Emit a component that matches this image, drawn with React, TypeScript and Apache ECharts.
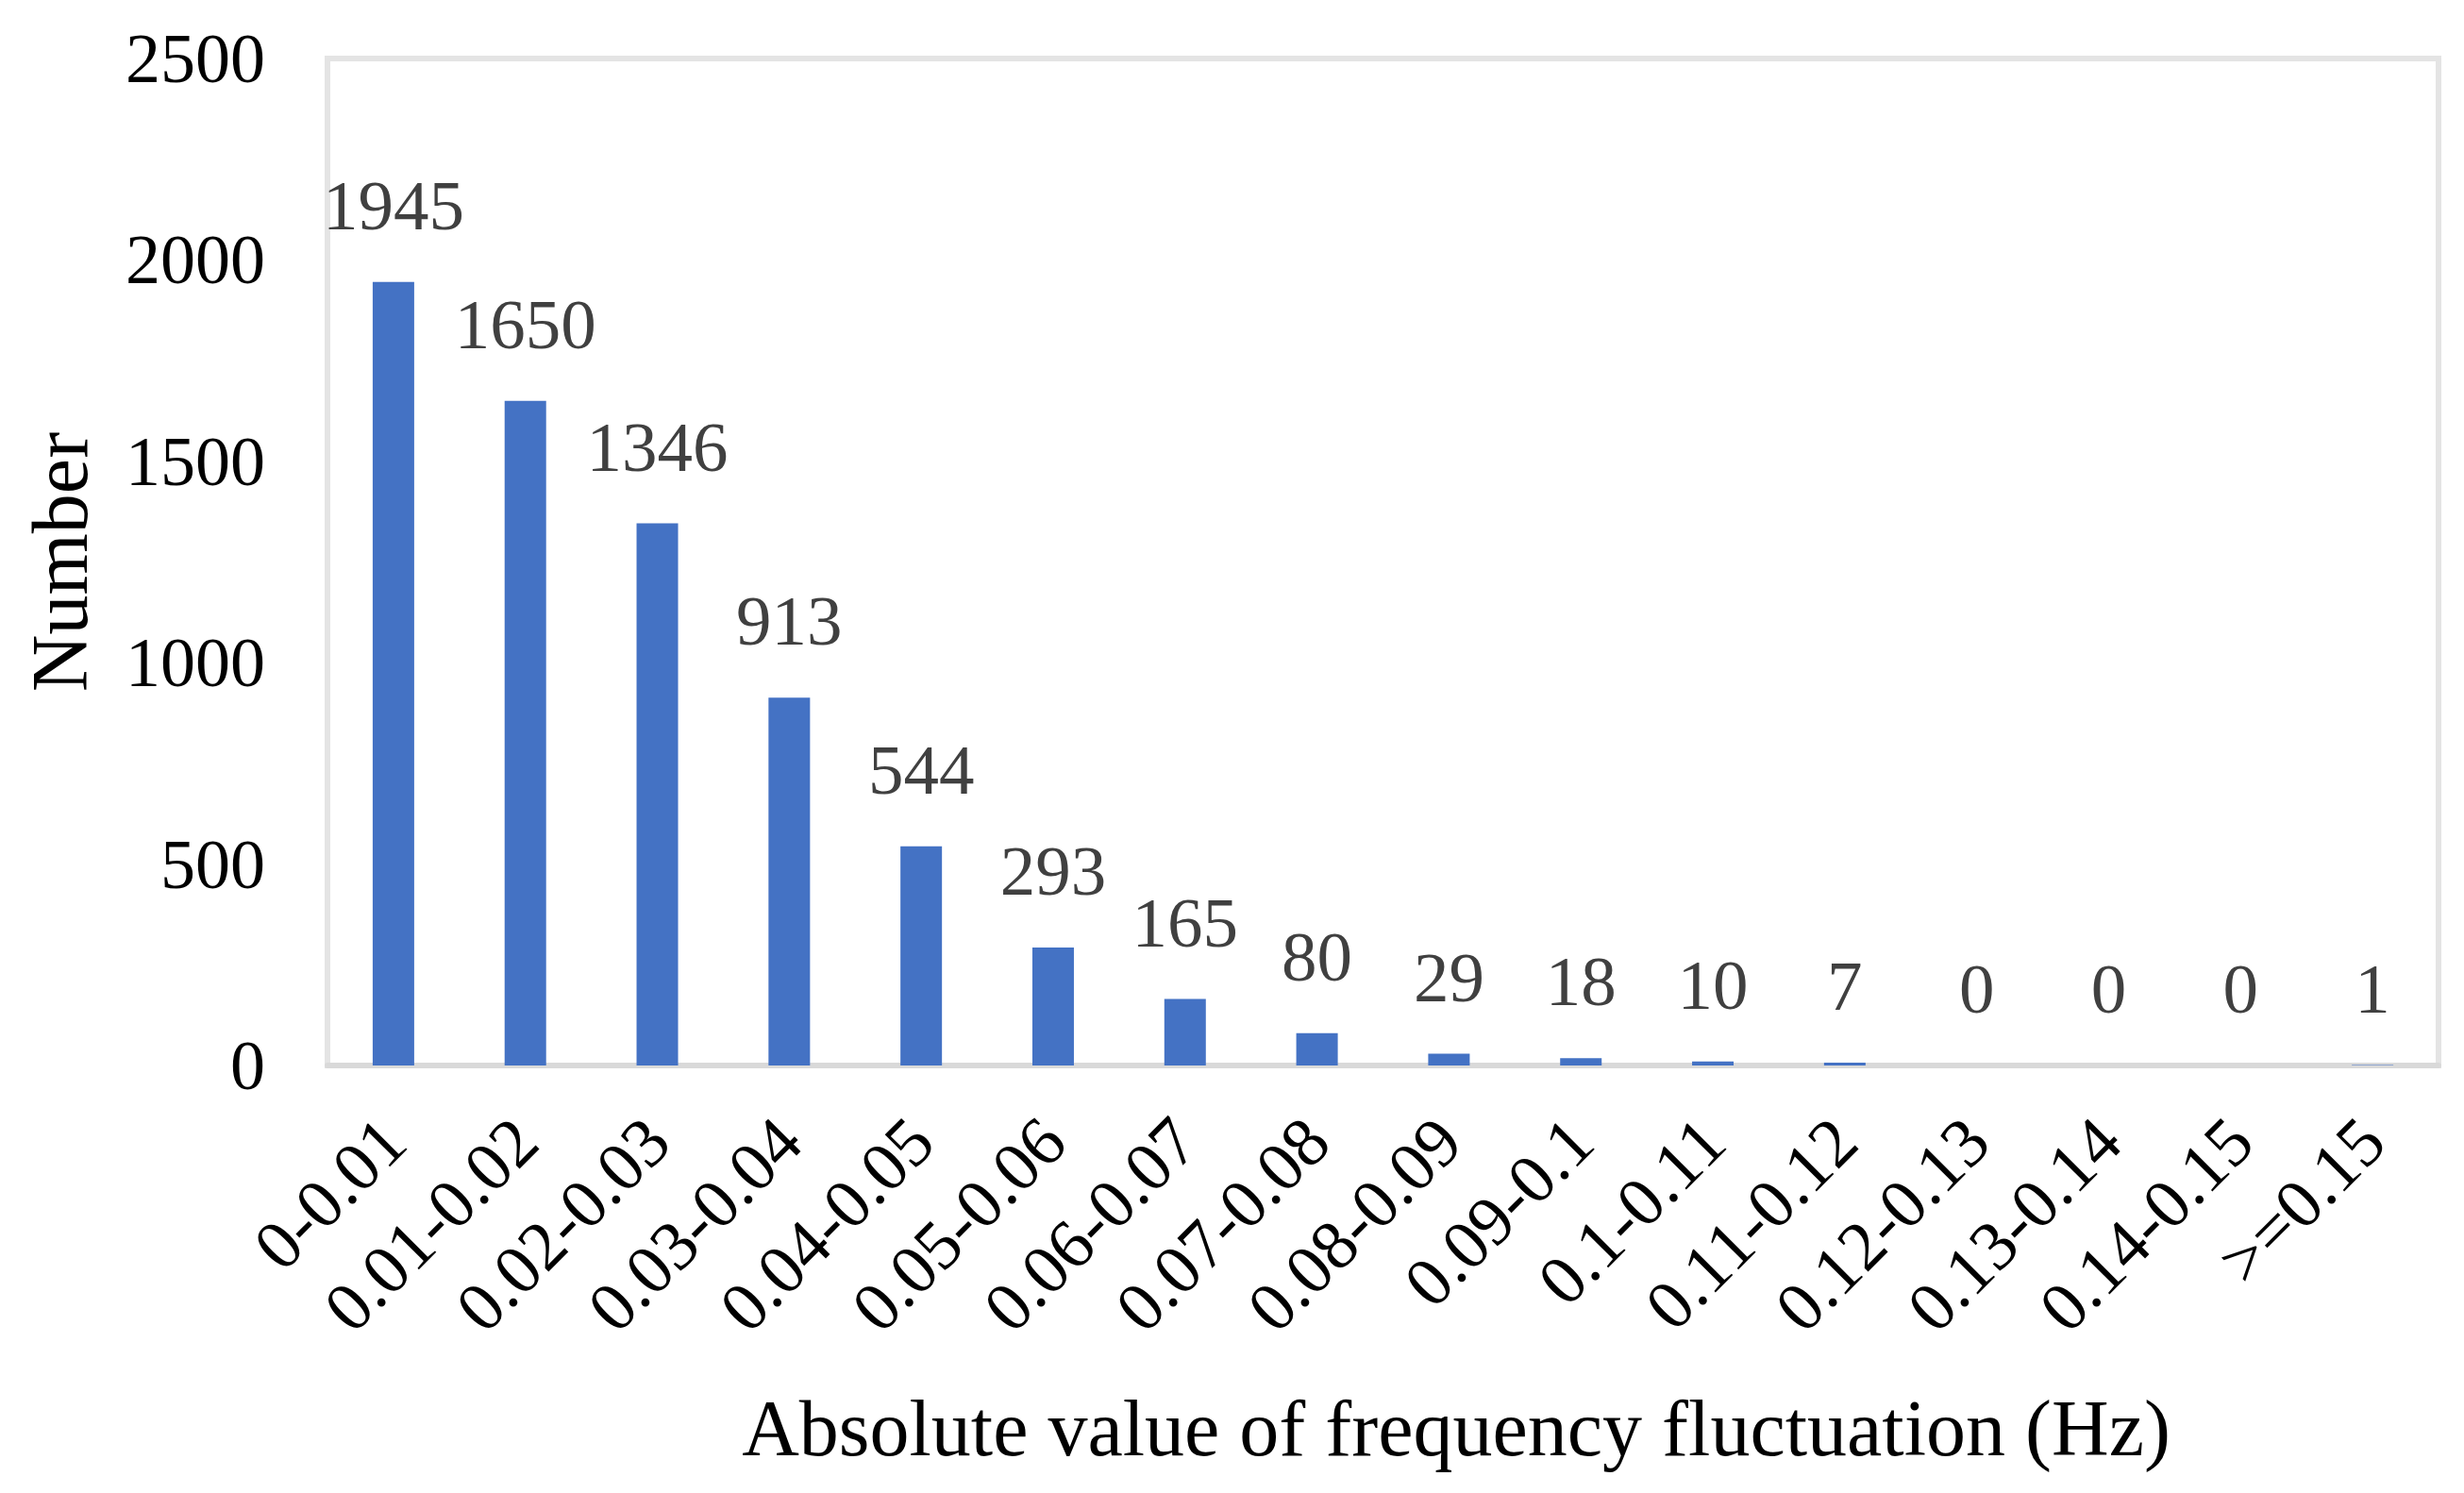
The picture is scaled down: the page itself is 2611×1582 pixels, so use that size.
import React, { useEffect, useRef } from "react";
import * as echarts from "echarts";

const categories = [
  "0-0.01", "0.01-0.02", "0.02-0.03", "0.03-0.04", "0.04-0.05", "0.05-0.06",
  "0.06-0.07", "0.07-0.08", "0.08-0.09", "0.09-0.1", "0.1-0.11", "0.11-0.12",
  "0.12-0.13", "0.13-0.14", "0.14-0.15", ">=0.15",
];
const counts = [1945, 1650, 1346, 913, 544, 293, 165, 80, 29, 18, 10, 7, 0, 0, 0, 1];
const yTicks = { min: 0, max: 2500, interval: 500 };
const xTitle = "Absolute value of frequency fluctuation (Hz)";
const yTitle = "Number";

const FONT = '"Liberation Serif", "Times New Roman", serif';

export default function App() {
  const ref = useRef<HTMLDivElement>(null);
  useEffect(() => {
    if (!ref.current) return;
    const chart = echarts.init(ref.current, null, { renderer: "svg" });
    chart.setOption({
      animation: false,
      backgroundColor: "#ffffff",
      textStyle: { fontFamily: FONT },
      grid: {
        left: 347,
        right: 27,
        top: 62,
        bottom: 453,
        show: true,
        borderColor: "#E4E4E4",
        borderWidth: 6,
        containLabel: false,
      },
      xAxis: {
        type: "category",
        data: categories,
        axisLine: { show: true, lineStyle: { color: "#D9D9D9", width: 6 } },
        axisTick: { show: false },
        axisLabel: {
          interval: 0,
          rotate: 45,
          margin: 68,
          fontSize: 74,
          color: "#000000",
          fontFamily: FONT,
        },
      },
      yAxis: {
        type: "value",
        min: yTicks.min,
        max: yTicks.max,
        interval: yTicks.interval,
        splitLine: { show: false },
        axisLine: { show: false },
        axisTick: { show: false },
        axisLabel: {
          fontSize: 74,
          margin: 66,
          color: "#000000",
          fontFamily: FONT,
          formatter: (v: number) => String(v),
        },
        name: yTitle,
        nameLocation: "middle",
        nameRotate: 90,
        nameGap: 242,
        nameTextStyle: { fontSize: 84, color: "#000000", fontFamily: FONT },
      },
      graphic: [
        {
          type: "text",
          x: 1543,
          y: 1513,
          style: {
            text: xTitle,
            fontSize: 84,
            fontFamily: FONT,
            fill: "#000000",
            textAlign: "center",
            textVerticalAlign: "middle",
          },
        },
      ],
      series: [
        {
          type: "bar",
          data: counts,
          barWidth: 44,
          itemStyle: { color: "#4472C4" },
          label: {
            show: true,
            position: "top",
            distance: 44,
            fontSize: 75,
            color: "#404040",
            fontFamily: FONT,
          },
        },
      ],
    });
    return () => chart.dispose();
  }, []);
  return (
    <div
      ref={ref}
      style={{ position: "fixed", left: 0, top: 0, width: 2611, height: 1582, background: "#fff" }}
    />
  );
}
